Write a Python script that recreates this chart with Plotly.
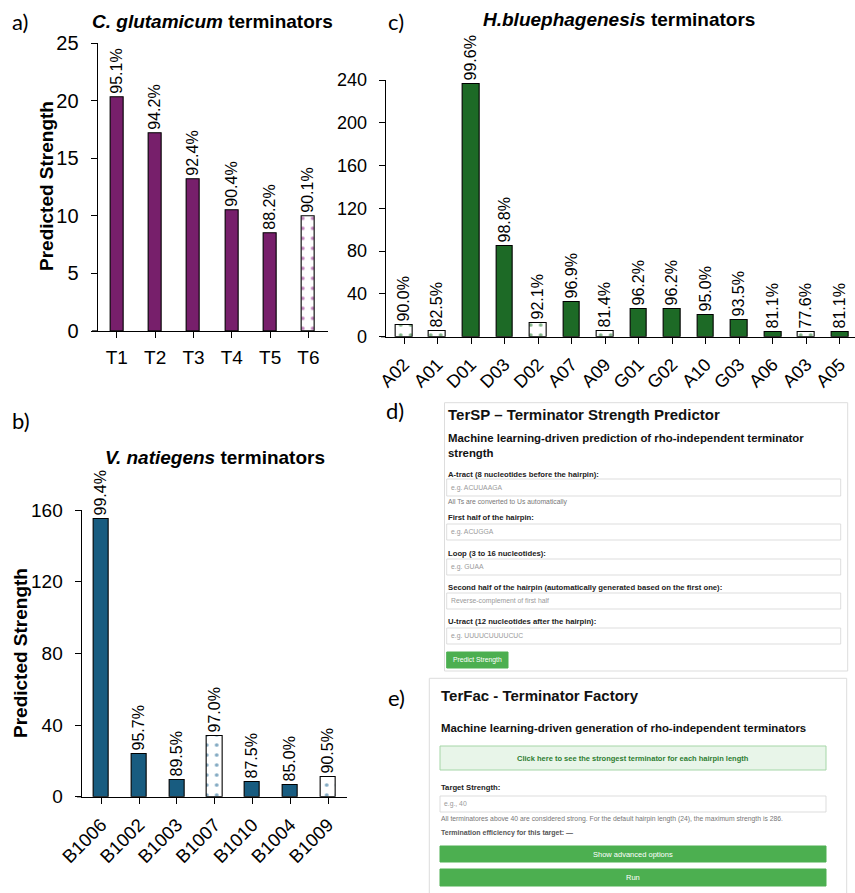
import plotly.graph_objects as go

# ---------------- data ----------------
a_cats = ["T1", "T2", "T3", "T4", "T5", "T6"]
a_vals = [20.3, 17.2, 13.2, 10.5, 8.5, 10.0]
a_pct = ["95.1%", "94.2%", "92.4%", "90.4%", "88.2%", "90.1%"]
a_filled = [True, True, True, True, True, False]

c_cats = ["A02", "A01", "D01", "D03", "D02", "A07", "A09", "G01", "G02", "A10", "G03", "A06", "A03", "A05"]
c_vals = [10.5, 5.8, 236, 85, 13, 32, 5.6, 26, 26, 20.3, 15.3, 4.5, 4.5, 4.5]
c_pct = ["90.0%", "82.5%", "99.6%", "98.8%", "92.1%", "96.9%", "81.4%", "96.2%", "96.2%", "95.0%", "93.5%", "81.1%", "77.6%", "81.1%"]
c_filled = [False, False, True, True, False, True, False, True, True, True, True, True, False, True]

b_cats = ["B1006", "B1002", "B1003", "B1007", "B1010", "B1004", "B1009"]
b_vals = [154.8, 24, 9.5, 34, 8.2, 6.7, 11]
b_pct = ["99.4%", "95.7%", "89.5%", "97.0%", "87.5%", "85.0%", "90.5%"]
b_filled = [True, True, True, False, True, True, False]

a_ticks = [0, 5, 10, 15, 20, 25]
c_ticks = [0, 40, 80, 120, 160, 200, 240]
b_ticks = [0, 40, 80, 120, 160]

# ---------------- helpers ----------------
W, H = 855, 893
def X(p): return p / W
def Y(p): return 1 - p / H

CHART_FONT = "Liberation Sans, Arial, sans-serif"
LETTER_FONT = "Lato, Open Sans, sans-serif"

def bar_trace(cats, vals, pct, filled, color, dotcolor, width, xa, ya):
    # marker.color kept scalar so that the per-bar pattern colours are honoured;
    # filled bars use a pattern whose fg and bg are both the bar colour (solid).
    return go.Bar(
        x=cats, y=vals, text=pct, textposition="outside", textangle=-90,
        constraintext="none", cliponaxis=False, width=width,
        textfont=dict(family=CHART_FONT, size=16, color="black"),
        marker=dict(
            color="white",
            line=dict(color="black", width=1.1),
            pattern=dict(shape=".",
                         fgcolor=[color if f else dotcolor for f in filled],
                         bgcolor=[color if f else "white" for f in filled],
                         fgopacity=1, size=10, solidity=0.11,
                         fillmode="replace"),
        ),
        xaxis=xa, yaxis=ya, showlegend=False, hoverinfo="skip",
    )

fig = go.Figure()
fig.add_trace(bar_trace(a_cats, a_vals, a_pct, a_filled, "#771F6B", "#C07FB9", 0.34, "x", "y"))
fig.add_trace(bar_trace(c_cats, c_vals, c_pct, c_filled, "#1D6A26", "#82B488", 0.5, "x2", "y2"))
fig.add_trace(bar_trace(b_cats, b_vals, b_pct, b_filled, "#185C80", "#82AAC2", 0.4, "x3", "y3"))

def xax(dom, rng, size, angle=0):
    return dict(domain=dom, range=rng, showline=True, linecolor="black", linewidth=1.3,
                ticks="outside", ticklen=6, tickwidth=1.2, tickcolor="black",
                tickfont=dict(family=CHART_FONT, size=size, color="black"),
                tickangle=angle, showgrid=False, zeroline=False, fixedrange=True,
                ticklabelstandoff=3, automargin=False)

def yax(dom, rng, tv, size):
    return dict(domain=dom, range=rng, tickvals=tv, showline=True, linecolor="black",
                linewidth=1.3, ticks="outside", ticklen=6, tickwidth=1.2, tickcolor="black",
                tickfont=dict(family=CHART_FONT, size=size, color="black"),
                showgrid=False, zeroline=False, fixedrange=True, ticklabelstandoff=8,
                automargin=False)

layout = dict(
    width=W, height=H, autosize=False,
    margin=dict(l=0, r=0, t=0, b=0, pad=0, autoexpand=False),
    paper_bgcolor="white", plot_bgcolor="rgba(0,0,0,0)", bargap=0,
    xaxis=dict(xax([X(97.7), X(328)], [-0.5, 5.51], 19), anchor="y"),
    yaxis=dict(yax([Y(331), Y(43.3)], [0, 25], a_ticks, 20), anchor="x"),
    xaxis2=dict(xax([X(385.7), X(855)], [-0.546, 13.45], 18, -45), anchor="y2"),
    yaxis2=dict(yax([Y(336.7), Y(80)], [0, 240], c_ticks, 18), anchor="x2"),
    xaxis3=dict(xax([X(81.7), X(347)], [-0.52, 6.5], 18.5, -45), anchor="y3"),
    yaxis3=dict(yax([Y(796.7), Y(510)], [0, 160], b_ticks, 19), anchor="x3"),
)
fig.update_layout(**layout)

shapes = []
annotations = []

def line(x0, y0, x1, y1, color="black", w=1.3):
    shapes.append(dict(type="line", xref="paper", yref="paper", x0=X(x0), y0=Y(y0),
                       x1=X(x1), y1=Y(y1), line=dict(color=color, width=w)))

def rect(x0, y0, x1, y1, fill="white", border="#dddddd", w=1):
    shapes.append(dict(type="rect", xref="paper", yref="paper", x0=X(x0), y0=Y(y0),
                       x1=X(x1), y1=Y(y1), fillcolor=fill, line=dict(color=border, width=w),
                       layer="below"))

def text(t, x, y, size, color="black", bold=False, anchor="left", family=CHART_FONT, angle=0):
    annotations.append(dict(text=("<b>%s</b>" % t) if bold else t, x=X(x), y=Y(y),
                            xref="paper", yref="paper", xanchor=anchor, yanchor="middle",
                            showarrow=False, textangle=angle,
                            font=dict(family=family, size=size, color=color)))

# small x-axis extensions left of the y axes
line(92, 331, 97.7, 331)
line(381, 336.7, 385.7, 336.7)
line(77, 796.7, 81.7, 796.7)

# panel letters
text("a)", 10, 22, 22, family=LETTER_FONT)
text("c)", 386, 21, 22, family=LETTER_FONT)
text("b)", 10, 420, 22, family=LETTER_FONT)
text("d)", 384, 410, 22, family=LETTER_FONT)
text("e)", 386, 697, 22, family=LETTER_FONT)

# chart titles
text("<i>C. glutamicum</i> terminators", 212, 22, 19, bold=True, anchor="center")
text("<i>H.bluephagenesis</i> terminators", 619, 20, 19, bold=True, anchor="center")
text("<i>V. natiegens</i> terminators", 215, 457, 19, bold=True, anchor="center")

# y-axis titles
text("Predicted Strength", 46, 186, 19, bold=True, anchor="center", angle=-90)
text("Predicted Strength", 20, 653, 19, bold=True, anchor="center", angle=-90)

# ---------------- panel d : TerSP form ----------------
rect(444.5, 402.7, 847.7, 671)
text("TerSP – Terminator Strength Predictor", 446, 414, 15, "#111", bold=True)
text("Machine learning-driven prediction of rho-independent terminator", 446, 438, 11.4, "#111", bold=True)
text("strength", 446, 453, 11.4, "#111", bold=True)

rows_d = [
    ("A-tract (8 nucleotides before the hairpin):", 474, 479, 496, "e.g. ACUUAAGA"),
    ("First half of the hairpin:", 517, 524, 540, "e.g. ACUGGA"),
    ("Loop (3 to 16 nucleotides):", 553, 559, 575, "e.g. GUAA"),
    ("Second half of the hairpin (automatically generated based on the first one):", 587, 593, 609, "Reverse-complement of first half"),
    ("U-tract (12 nucleotides after the hairpin):", 621, 628, 644, "e.g. UUUUCUUUUCUC"),
]
for lab, ly, y0, y1, ph in rows_d:
    text(lab, 446, ly, 7.7, "#222", bold=True)
    rect(446.7, y0, 840.7, y1, border="#d4d4d4", w=0.8)
    text(ph, 449, (y0 + y1) / 2, 6.8, "#9a9a9a")
text("All Ts are converted to Us automatically", 446, 502, 6.8, "#777")
rect(446.7, 652, 508, 668, fill="#4CAF50", border="#4CAF50")
text("Predict Strength", 477.3, 660, 6.8, "white", anchor="center")

# ---------------- panel e : TerFac form ----------------
rect(429.3, 678.3, 846.7, 900)
text("TerFac - Terminator Factory", 439, 695, 15, "#111", bold=True)
text("Machine learning-driven generation of rho-independent terminators", 439, 728, 11.4, "#111", bold=True)
rect(440, 746, 826, 770, fill="#E8F5E9", border="#A5D6A7", w=1)
text("Click here to see the strongest terminator for each hairpin length", 633, 758, 7.5, "#2E7D32", bold=True, anchor="center")
text("Target Strength:", 439, 787, 7.7, "#222", bold=True)
rect(440, 796, 826, 812, border="#d4d4d4", w=0.8)
text("e.g., 40", 442, 804, 6.8, "#9a9a9a")
text("All terminatores above 40 are considered strong. For the default hairpin length (24), the maximum strength is 286.",
     439, 819, 6.8, "#777")
text("Termination efficiency for this target: —", 439, 833, 7, "#555", bold=True)
rect(440, 846, 826, 862, fill="#4CAF50", border="#4CAF50")
text("Show advanced options", 633, 854, 7.5, "white", anchor="center")
rect(440, 869, 826, 886, fill="#4CAF50", border="#4CAF50")
text("Run", 633, 877.5, 7.5, "white", anchor="center")

fig.update_layout(shapes=shapes, annotations=annotations)
fig.write_html("out.html", config={"displayModeBar": False},
               post_script="document.body.style.margin='0';")
